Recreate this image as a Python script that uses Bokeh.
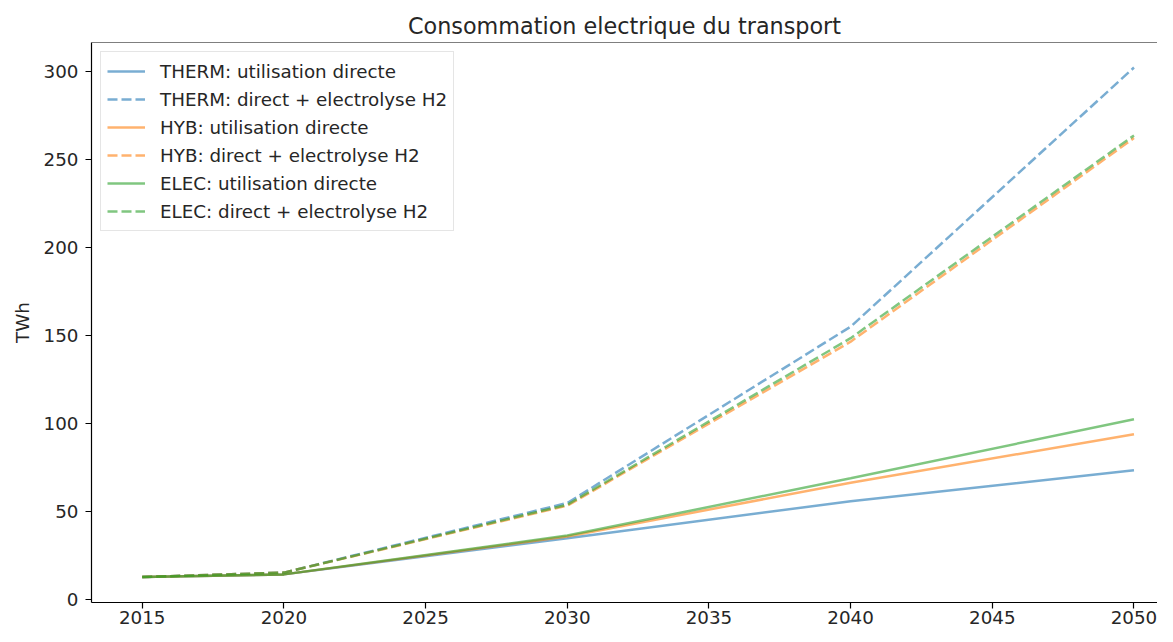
from bokeh.plotting import figure
from bokeh.models import Range1d, Legend, LegendItem, Span, FixedTicker
from bokeh.embed import file_html
from bokeh.resources import INLINE

years = [2015, 2020, 2030, 2040, 2050]
therm_direct = [13, 14.5, 35, 56, 73.5]
therm_h2 = [13, 15.5, 55, 155, 302]
hyb_direct = [13, 14.5, 36, 66.5, 94]
hyb_h2 = [13, 15.5, 53.5, 146.5, 262]
elec_direct = [13, 14.5, 36.5, 69, 102.5]
elec_h2 = [13, 15.5, 54, 148.5, 263.5]

series = [
    ("THERM: utilisation directe", therm_direct, "#1f77b4", "solid"),
    ("THERM: direct + electrolyse H2", therm_h2, "#1f77b4", "dashed"),
    ("HYB: utilisation directe", hyb_direct, "#ff7f0e", "solid"),
    ("HYB: direct + electrolyse H2", hyb_h2, "#ff7f0e", "dashed"),
    ("ELEC: utilisation directe", elec_direct, "#2ca02c", "solid"),
    ("ELEC: direct + electrolyse H2", elec_h2, "#2ca02c", "dashed"),
]

FONT = "DejaVu Sans"
TXT = "#262626"
FS = "18.3px"

p = figure(width=1157, height=626, output_backend="svg", toolbar_location=None,
           x_range=Range1d(2013.21, 2050.83), y_range=Range1d(-1.45, 316.2),
           min_border_left=91, min_border_right=0, min_border_top=42,
           min_border_bottom=0,
           title="Consommation electrique du transport")
p.title.align = "center"
p.title.offset = 13
p.title.standoff = 8
p.title.text_font = FONT
p.title.text_font_size = "22.3px"
p.title.text_font_style = "normal"
p.title.text_color = TXT

p.xgrid.visible = False
p.ygrid.visible = False
p.outline_line_color = None
p.background_fill_color = "white"
p.border_fill_color = "white"

items = []
for label, vals, col, dash in series:
    r = p.line(years, vals, line_color=col, line_alpha=0.6, line_width=2.5,
               line_dash=("solid" if dash == "solid" else "10 4"))
    items.append(LegendItem(label=label, renderers=[r]))

top = Span(location=316.2, dimension="width", line_color="black", line_width=1.2)
p.add_layout(top)

for ax in (p.xaxis[0], p.yaxis[0]):
    ax.major_tick_out = 6
    ax.major_tick_in = 0
    ax.minor_tick_out = 0
    ax.minor_tick_in = 0
    ax.major_label_text_font = FONT
    ax.major_label_text_font_size = FS
    ax.major_label_text_color = TXT
    ax.axis_line_color = "black"
    ax.axis_line_width = 1.2
    ax.major_tick_line_color = "black"
    ax.major_tick_line_width = 1.2

p.xaxis[0].major_label_standoff = 2
p.yaxis[0].major_label_standoff = 7
p.xaxis[0].ticker = FixedTicker(ticks=[2015, 2020, 2025, 2030, 2035, 2040, 2045, 2050])
p.yaxis[0].ticker = FixedTicker(ticks=[0, 50, 100, 150, 200, 250, 300])
p.yaxis[0].axis_label = "TWh"
p.yaxis[0].axis_label_text_font = FONT
p.yaxis[0].axis_label_text_font_size = FS
p.yaxis[0].axis_label_text_font_style = "normal"
p.yaxis[0].axis_label_text_color = TXT
p.yaxis[0].axis_label_standoff = 8

legend = Legend(items=items, location="top_left")
legend.margin = 9
legend.padding = 6
legend.spacing = 2
legend.label_height = 26
legend.glyph_height = 26
legend.glyph_width = 38
legend.label_standoff = 15
legend.label_text_font = FONT
legend.label_text_font_size = FS
legend.label_text_color = TXT
legend.border_line_color = "#cccccc"
legend.border_line_width = 1
legend.background_fill_color = "white"
legend.background_fill_alpha = 0.8
p.add_layout(legend, "center")

open("out.html", "w").write(file_html(p, INLINE))
